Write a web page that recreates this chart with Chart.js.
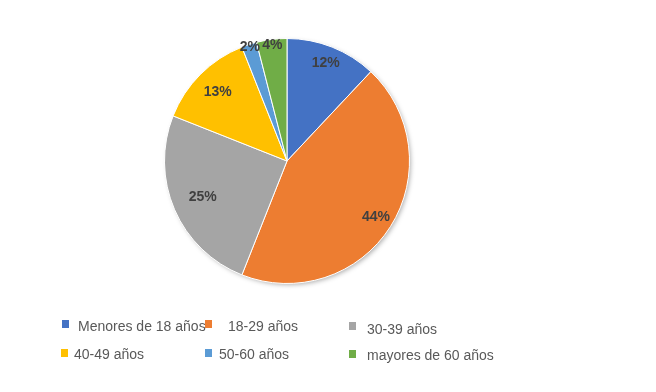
<!DOCTYPE html>
<html>
<head>
<meta charset="utf-8">
<script src="https://cdn.jsdelivr.net/npm/chart.js@4/dist/chart.umd.min.js"></script>
<style>
  html, body { margin: 0; padding: 0; background: #fff; }
  canvas { display: block; }
</style>
</head>
<body>
<canvas id="grafica" width="656" height="392"></canvas>
<script>
const categorias = ['Menores de 18 años', '18-29 años', '30-39 años', '40-49 años', '50-60 años', 'mayores de 60 años'];
const porcentajes = [12, 44, 25, 13, 2, 4];
const colores = ['#4472C4', '#ED7D31', '#A5A5A5', '#FFC000', '#5B9BD5', '#70AD47'];

// where each label sits, as a fraction of the radius
const radioEtiqueta = [0.86, 0.86, 0.75, 0.8, 0.98, 0.95];
// legend layout: [box x, box y, text x, text y]
const posLeyenda = [
  [62, 320, 78, 327],
  [205, 320, 228, 327],
  [349, 322, 367, 330],
  [61, 349, 74, 355],
  [205, 349, 219, 355],
  [349, 350, 367, 356]
];

const sombra = {
  id: 'sombra',
  beforeDatasetsDraw(chart) {
    const arc = chart.getDatasetMeta(0).data[0];
    if (!arc) return;
    const ctx = chart.ctx;
    ctx.save();
    ctx.shadowColor = 'rgba(0,0,0,0.35)';
    ctx.shadowBlur = 5;
    ctx.shadowOffsetX = 2;
    ctx.shadowOffsetY = 2;
    ctx.fillStyle = '#fff';
    ctx.beginPath();
    ctx.arc(arc.x, arc.y, arc.outerRadius - 1, 0, Math.PI * 2);
    ctx.fill();
    ctx.restore();
  }
};

const etiquetas = {
  id: 'etiquetas',
  afterDatasetsDraw(chart) {
    const ctx = chart.ctx;
    ctx.save();
    ctx.font = 'bold 14px "Liberation Sans", sans-serif';
    ctx.fillStyle = '#404040';
    ctx.textAlign = 'center';
    ctx.textBaseline = 'middle';
    chart.getDatasetMeta(0).data.forEach(function (arc, i) {
      const a = (arc.startAngle + arc.endAngle) / 2;
      const r = arc.outerRadius * radioEtiqueta[i];
      ctx.fillText(porcentajes[i] + '%', arc.x + Math.cos(a) * r, arc.y + Math.sin(a) * r);
    });
    ctx.restore();
  }
};

const leyenda = {
  id: 'leyenda',
  afterDraw(chart) {
    const ctx = chart.ctx;
    ctx.save();
    ctx.font = '14px "Liberation Sans", sans-serif';
    ctx.textBaseline = 'middle';
    categorias.forEach(function (c, i) {
      const p = posLeyenda[i];
      ctx.fillStyle = colores[i];
      ctx.fillRect(p[0], p[1], 7, 8);
      ctx.fillStyle = '#595959';
      ctx.fillText(c, p[2], p[3]);
    });
    ctx.restore();
  }
};

new Chart(document.getElementById('grafica'), {
  type: 'pie',
  data: {
    labels: categorias,
    datasets: [{
      data: porcentajes,
      backgroundColor: colores,
      borderColor: '#ffffff',
      borderWidth: 1
    }]
  },
  options: {
    responsive: false,
    animation: false,
    layout: { padding: { left: 164, right: 246, top: 38, bottom: 108 } },
    plugins: {
      legend: { display: false },
      tooltip: { enabled: false }
    }
  },
  plugins: [sombra, etiquetas, leyenda]
});
</script>
</body>
</html>
